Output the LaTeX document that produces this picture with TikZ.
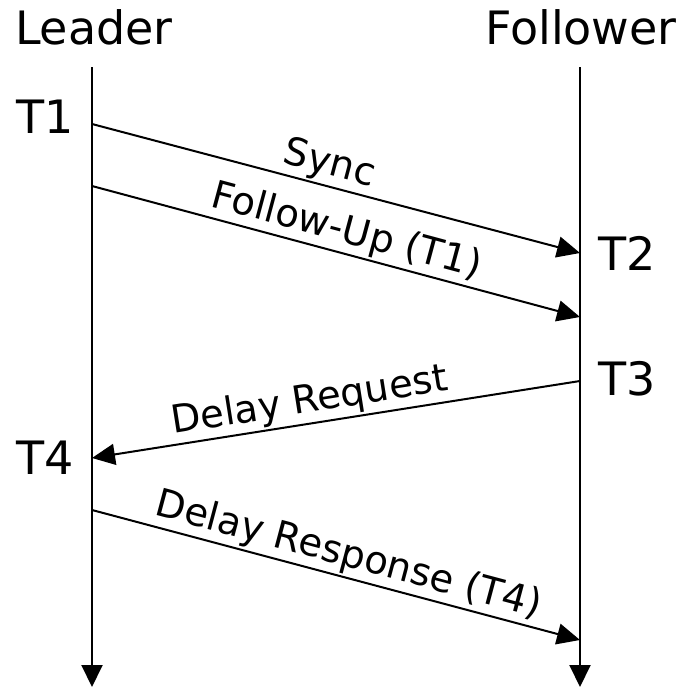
\documentclass[tikz,border=0pt]{standalone}
\usepackage{fontspec}
\setmainfont{DejaVu Sans}
\usetikzlibrary{arrows.meta}
\begin{document}
\begin{tikzpicture}[x=1pt,y=-1pt,
  msg/.style={line width=2pt,-{Triangle[length=23pt,width=21pt]}},
  life/.style={line width=2pt,-{Triangle[length=22pt,width=21pt]}},
  head/.style={font=\fontsize{46}{55}\selectfont,inner sep=0pt,anchor=base},
  tlabel/.style={font=\fontsize{46}{55}\selectfont,inner sep=0pt,anchor=base},
  mlabel/.style={font=\fontsize{38.5}{46}\selectfont,sloped,anchor=south,inner sep=2pt}]
\useasboundingbox (0,0) rectangle (689,688);
% headers
\node[head] (leader) at (94,45) {Leader};
\node[head] (follower) at (581,45) {Follower};
% lifeline ends
\coordinate (Ltop) at (92,67);
\coordinate (Lbot) at (92,687);
\coordinate (Ftop) at (580,67);
\coordinate (Fbot) at (580,687);
\draw[life] (Ltop) -- (Lbot);
\draw[life] (Ftop) -- (Fbot);
% message end points
\coordinate (s1) at (92,124);  \coordinate (s2) at (580,253);
\coordinate (f1) at (92,186);  \coordinate (f2) at (580,317);
\coordinate (r1) at (580,381); \coordinate (r2) at (92,458);
\coordinate (p1) at (92,510);  \coordinate (p2) at (580,640);
\draw[msg] (s1) -- node[mlabel,pos=0.475] (syncl) {Sync} (s2);
\draw[msg] (f1) -- node[mlabel,pos=0.51] (fupl) {Follow-Up (T1)} (f2);
\draw[msg] (r1) -- node[mlabel,pos=0.547] (reql) {Delay Request} (r2);
\draw[msg] (p1) -- node[mlabel,pos=0.514] (respl) {Delay Response (T4)} (p2);
% time labels
\node[tlabel] (t1) at (45,133) {T1};
\node[tlabel] (t2) at (627,270) {T2};
\node[tlabel] (t3) at (627,395) {T3};
\node[tlabel] (t4) at (45,474) {T4};
\end{tikzpicture}
\end{document}
